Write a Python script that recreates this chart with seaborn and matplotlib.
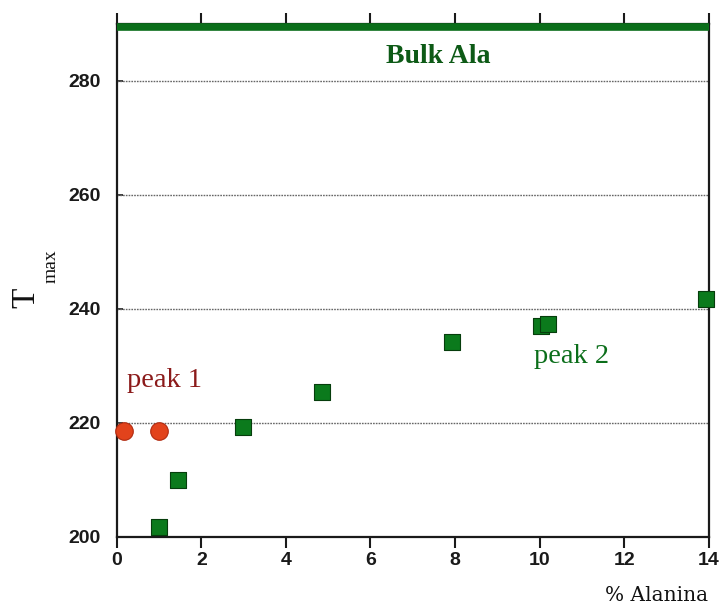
import matplotlib
matplotlib.use("Agg")
import matplotlib.pyplot as plt
import seaborn as sns
import pandas as pd

# Peak 1 (red circles) and peak 2 (green squares): % alanine vs T_max
peak1_x = [0.17, 0.99]
peak1_y = [218.6, 218.6]
peak2_x = [1.0, 1.44, 2.98, 4.85, 7.92, 10.03, 10.2, 13.93]
peak2_y = [201.7, 210.0, 219.3, 225.4, 234.2, 237.0, 237.4, 241.7]
bulk_ala = 289.5

x_ticks = [0, 2, 4, 6, 8, 10, 12, 14]
y_ticks = [200, 220, 240, 260, 280]

sns.set_style("white")

fig = plt.figure(figsize=(7.21, 6.08), dpi=100)
ax = fig.add_axes([0.162, 0.117, 0.821, 0.8435])

green = "#0b7a1c"
red = "#e2431c"

df1 = pd.DataFrame({"x": peak1_x, "y": peak1_y})
df2 = pd.DataFrame({"x": peak2_x, "y": peak2_y})

sns.scatterplot(data=df2, x="x", y="y", ax=ax, marker="s", s=140,
                color=green, edgecolor="#063d0c", linewidth=0.8, zorder=4, clip_on=False)
sns.scatterplot(data=df1, x="x", y="y", ax=ax, marker="o", s=160,
                color=red, edgecolor="#b02a10", linewidth=0.8, zorder=4, clip_on=False)

ax.axhline(bulk_ala, color="#0b6e1a", lw=5.5, zorder=5, clip_on=False,
           solid_capstyle="butt")

ax.set_xlim(0, 14)
ax.set_ylim(200, 290)
ax.set_xticks(x_ticks)
ax.set_yticks(y_ticks)
ax.set_xticklabels([str(v) for v in x_ticks])
ax.set_yticklabels([str(v) for v in y_ticks])

for yv in y_ticks[1:]:
    ax.axhline(yv, color="#666666", lw=1.0, ls=(0, (1.2, 0.8)), zorder=1)

for s in ax.spines.values():
    s.set_color("#1a1a1a")
    s.set_linewidth(1.6)

ax.tick_params(axis="x", which="both", direction="out", length=8, width=1.5,
               color="#1a1a1a", top=True, bottom=True, labelsize=14, pad=3)
ax.tick_params(axis="y", which="both", direction="in", length=4, width=1.2,
               color="#1a1a1a", left=True, labelsize=14, pad=11.5)
for lab in ax.get_xticklabels() + ax.get_yticklabels():
    lab.set_fontfamily("Liberation Sans")
    lab.set_fontweight("bold")
    lab.set_color("#1a1a1a")

ax.set_xlabel("")
ax.set_ylabel("")

serif = "Liberation Serif"
ax.text(7.6, 284.3, "Bulk Ala", color="#0d5a16", fontsize=20, family=serif,
        fontweight="bold", ha="center", va="center")
ax.text(1.12, 227.5, "peak 1", color="#8b1a1a", fontsize=20.5, family=serif,
        ha="center", va="center")
ax.text(10.76, 231.6, "peak 2", color="#0b6e1a", fontsize=20.5, family=serif,
        ha="center", va="center")

# axis titles
fig.text(0.036, 0.51, "T", rotation=90, fontsize=24, family=serif,
         ha="center", va="center", color="#111111")
fig.text(0.0707, 0.563, "max", rotation=90, fontsize=14, family=serif,
         ha="center", va="center", color="#111111")
fig.text(0.91, 0.02, "% Alanina", fontsize=14.5, family="DejaVu Serif",
         ha="center", va="center", color="#111111")

fig.savefig("out.png", dpi=100, facecolor="white")
